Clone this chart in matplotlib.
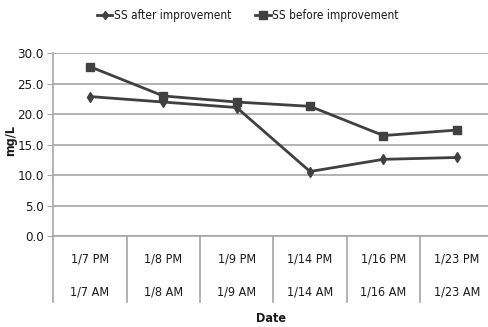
import matplotlib
matplotlib.use("Agg")
import matplotlib.pyplot as plt
from matplotlib.transforms import blended_transform_factory

# Data
pm_labels = ["1/7 PM", "1/8 PM", "1/9 PM", "1/14 PM", "1/16 PM", "1/23 PM"]
am_labels = ["1/7 AM", "1/8 AM", "1/9 AM", "1/14 AM", "1/16 AM", "1/23 AM"]
ss_after = [22.9, 22.0, 21.1, 10.6, 12.6, 12.9]
ss_before = [27.8, 23.0, 22.0, 21.3, 16.5, 17.4]
y_ticks = [0, 5, 10, 15, 20, 25, 30]

# Narrow face for all text
plt.rcParams["font.family"] = ["DejaVu Sans"]
plt.rcParams["font.stretch"] = "condensed"

line_col = "#404040"
grid_col = "#a6a6a6"
text_col = "#1a1a1a"

fig = plt.figure(figsize=(4.89, 3.27), dpi=100)
ax = fig.add_axes([0.109, 0.278, 0.891, 0.559])

x = list(range(len(pm_labels)))
l1, = ax.plot(x, ss_after, color=line_col, lw=2, marker="d", ms=5,
              markerfacecolor=line_col, markeredgecolor=line_col, zorder=3)
l2, = ax.plot(x, ss_before, color=line_col, lw=2, marker="s", ms=6,
              markerfacecolor=line_col, markeredgecolor=line_col, zorder=3)

ax.set_xlim(-0.5, 5.44)
ax.set_ylim(0, 30)
ax.set_yticks(y_ticks)
ax.set_yticklabels([f"{v:.1f}" for v in y_ticks], fontsize=9.5, color=text_col)
ax.yaxis.grid(True, color=grid_col, lw=1.2)
ax.set_axisbelow(True)
ax.set_xticks([])
for s in ["top", "right"]:
    ax.spines[s].set_visible(False)
ax.spines["left"].set_color(grid_col)
ax.spines["bottom"].set_color(grid_col)
ax.spines["left"].set_linewidth(1.2)
ax.spines["bottom"].set_linewidth(1.2)
ax.tick_params(axis="y", length=4, color=grid_col, pad=3)

ax.set_ylabel("mg/L", fontsize=9, fontweight="bold", color=text_col)
ax.yaxis.set_label_coords(-0.083, 0.525)

# Two-level category axis
trans = blended_transform_factory(ax.transData, ax.transAxes)
for b in [i - 0.5 for i in range(len(pm_labels))]:
    ax.plot([b, b], [0, -0.361], transform=trans, color=grid_col, lw=1.2, clip_on=False)
for i, (p, a) in enumerate(zip(pm_labels, am_labels)):
    ax.text(i, -0.126, p, transform=trans, ha="center", va="center", fontsize=9, color=text_col)
    ax.text(i, -0.306, a, transform=trans, ha="center", va="center", fontsize=9, color=text_col)
ax.text(2.5 - 0.03, -0.449, "Date", transform=trans, ha="center", va="center",
        fontsize=9, fontweight="bold", color=text_col)

leg = fig.legend([l1, l2], ["SS after improvement", "SS before improvement"],
                 loc="center", bbox_to_anchor=(0.507, 0.953), ncol=2, frameon=False,
                 fontsize=8.5, handlelength=1.3, handletextpad=0.15, columnspacing=2.0,
                 markerscale=0.9)
for t in leg.get_texts():
    t.set_color(text_col)

fig.savefig("out.png", dpi=100)
